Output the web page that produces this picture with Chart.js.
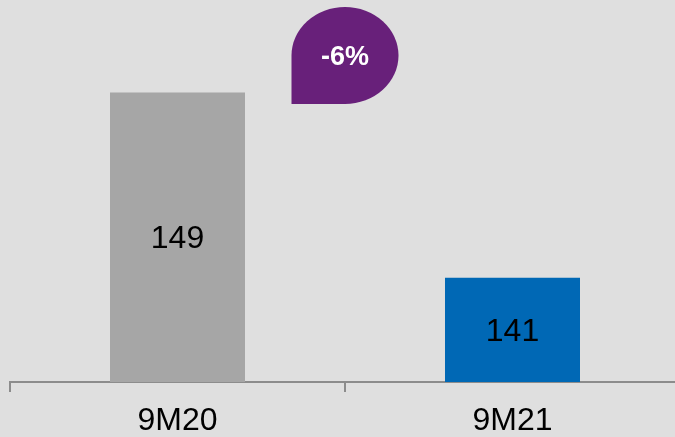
<!DOCTYPE html>
<html>
<head>
<meta charset="utf-8">
<script src="https://cdn.jsdelivr.net/npm/chart.js@4/dist/chart.umd.min.js"></script>
<style>
	html, body { margin: 0; padding: 0; background: #dfdfdf; overflow: hidden; }
	#wrap { width: 680px; height: 437px; position: relative; }
</style>
</head>
<body>
<div id="wrap"><canvas id="chart"></canvas></div>
<script>
const periods = ['9M20', '9M21']
const values = [149, 141]
const barColors = ['#a6a6a6', '#0068b5']
const changeLabel = '-6%'

// value labels in the middle of each bar
const barLabels = {
	id: 'barLabels',
	afterDraw(chart) {
		const { ctx, chartArea } = chart
		const xs = chart.scales.x
		const ys = chart.scales.y
		ctx.save()
		ctx.font = '32px "Liberation Sans", Arial, sans-serif'
		ctx.fillStyle = '#000000'
		ctx.textAlign = 'center'
		ctx.textBaseline = 'middle'
		values.forEach((v, i) => {
			const top = ys.getPixelForValue(v)
			ctx.fillText(String(v), xs.getPixelForValue(i), (top + chartArea.bottom) / 2 + 2)
		})
		ctx.restore()
	},
}

// purple drop badge between the two categories
const changeBadge = {
	id: 'changeBadge',
	afterDraw(chart) {
		const { ctx } = chart
		const xs = chart.scales.x
		const cx = (xs.getPixelForValue(0) + xs.getPixelForValue(1)) / 2
		const cy = 55.5
		const rx = 53.5
		const ry = 48.5
		ctx.save()
		ctx.fillStyle = '#68207a'
		ctx.beginPath()
		ctx.moveTo(cx - rx, cy + ry)
		ctx.lineTo(cx - rx, cy)
		ctx.ellipse(cx, cy, rx, ry, 0, Math.PI, Math.PI * 2.5)
		ctx.lineTo(cx - rx, cy + ry)
		ctx.closePath()
		ctx.fill()
		ctx.font = 'bold 27px "Liberation Sans", Arial, sans-serif'
		ctx.fillStyle = '#fff'
		ctx.textAlign = 'center'
		ctx.textBaseline = 'middle'
		ctx.fillText(changeLabel, cx, cy + 2)
		ctx.restore()
	},
}

new Chart(document.getElementById('chart'), {
	type: 'bar',
	data: {
		labels: periods,
		datasets: [{
			data: values,
			backgroundColor: barColors,
			barPercentage: 0.403,
			categoryPercentage: 1,
		}],
	},
	options: {
		responsive: true,
		maintainAspectRatio: false,
		animation: false,
		layout: { padding: { left: 10, right: 0, top: 0, bottom: 0 } },
		plugins: { legend: { display: false }, tooltip: { enabled: false } },
		scales: {
			y: {
				display: false,
				min: 136.5,
				max: 153,
			},
			x: {
				afterFit(scale) { scale.height = 55 },
				border: { display: true, color: '#8c8c8c', width: 2 },
				grid: {
					offset: true,
					drawOnChartArea: false,
					drawTicks: true,
					tickLength: 10,
					color: '#8c8c8c',
					lineWidth: 2,
				},
				ticks: {
					padding: 10,
					color: '#000',
					font: { family: '"Liberation Sans", Arial, sans-serif', size: 32 },
				},
			},
		},
	},
	plugins: [barLabels, changeBadge],
})
</script>
</body>
</html>
